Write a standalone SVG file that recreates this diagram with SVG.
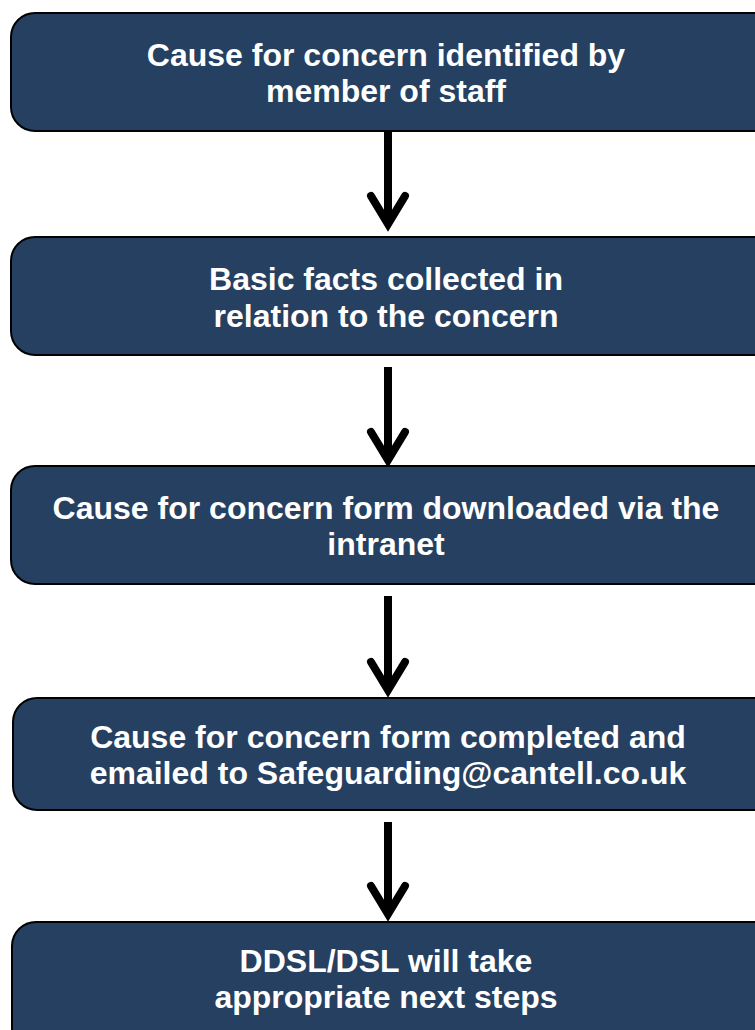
<svg xmlns="http://www.w3.org/2000/svg" width="755" height="1030" viewBox="0 0 755 1030">
<defs>
<style>
.box{fill:#264061;stroke:#000;stroke-width:2}
.t{font-family:"Liberation Sans",Arial,sans-serif;font-weight:bold;font-size:32px;fill:#fff;text-anchor:middle}
.ln{stroke:#000;stroke-width:8;fill:none}
.hd{stroke:#000;stroke-width:8;fill:none;stroke-linecap:round;stroke-linejoin:miter}
</style>
</defs>
<rect width="755" height="1030" fill="#fff"/>
<g id="connectors">
<line class="ln" x1="388" y1="124" x2="388" y2="222"/>
<polyline class="hd" points="371,196 388,224 405,196"/>
<line class="ln" x1="388" y1="367" x2="388" y2="458"/>
<polyline class="hd" points="371,432 388,460 405,432"/>
<line class="ln" x1="388" y1="596" x2="388" y2="688"/>
<polyline class="hd" points="371,662 388,690 405,662"/>
<line class="ln" x1="388" y1="822" x2="388" y2="912"/>
<polyline class="hd" points="371,886 388,914 405,886"/>
</g>
<g id="n1">
<rect class="box" x="11" y="13" width="766" height="118" rx="24"/>
<text class="t" x="386" y="66">Cause for concern identified by</text>
<text class="t" x="386" y="102">member of staff</text>
</g>
<g id="n2">
<rect class="box" x="11" y="237" width="766" height="118" rx="24"/>
<text class="t" x="386" y="290">Basic facts collected in</text>
<text class="t" x="386" y="327">relation to the concern</text>
</g>
<g id="n3">
<rect class="box" x="11" y="466" width="766" height="118" rx="24"/>
<text class="t" x="386" y="519">Cause for concern form downloaded via the</text>
<text class="t" x="386" y="555">intranet</text>
</g>
<g id="n4">
<rect class="box" x="13" y="698" width="764" height="112" rx="24"/>
<text class="t" x="388" y="748">Cause for concern form completed and</text>
<text class="t" x="388" y="784">emailed to Safeguarding@cantell.co.uk</text>
</g>
<g id="n5">
<rect class="box" x="12" y="922" width="765" height="130" rx="24"/>
<text class="t" x="386" y="972">DDSL/DSL will take</text>
<text class="t" x="386" y="1008">appropriate next steps</text>
</g>
</svg>
